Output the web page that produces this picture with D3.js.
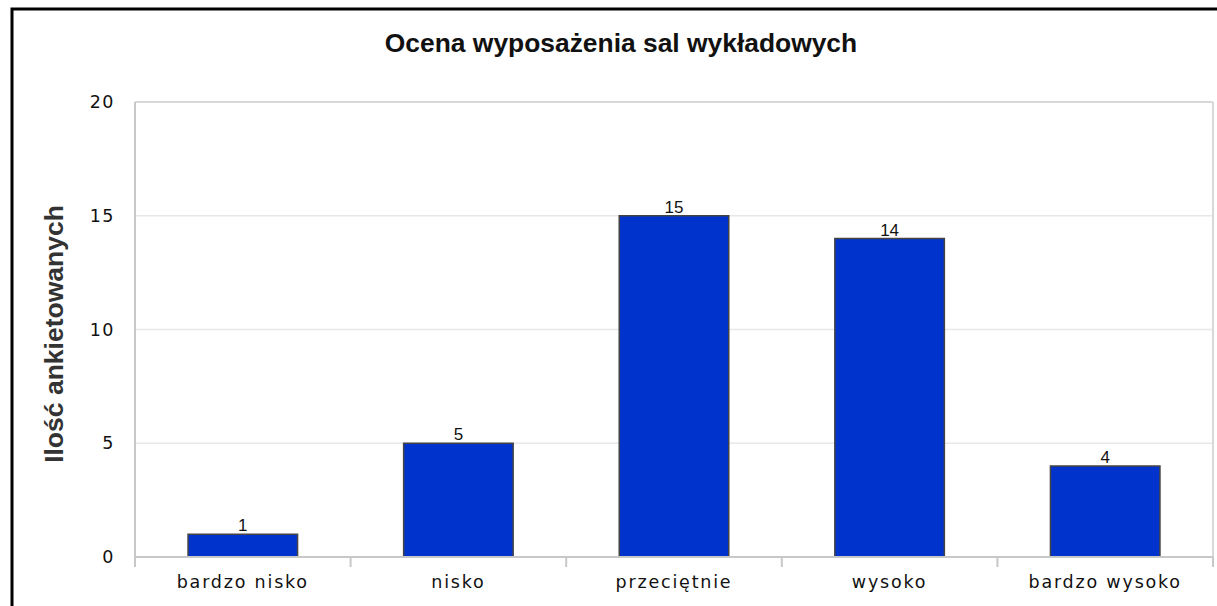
<!DOCTYPE html>
<html>
<head>
<meta charset="utf-8">
<script src="https://cdn.jsdelivr.net/npm/d3@7"></script>
<style>
html,body{margin:0;padding:0;background:#fff;}
svg{display:block;}
</style>
</head>
<body>
<svg id="chart" width="1217" height="606"></svg>
<script>
const title = "Ocena wyposażenia sal wykładowych";
const yTitle = "Ilość ankietowanych";
const categories = ["bardzo nisko", "nisko", "przeciętnie", "wysoko", "bardzo wysoko"];
const values = [1, 5, 15, 14, 4];
const yTicks = [0, 5, 10, 15, 20];

const svg = d3.select("#chart");
const W = 1217, H = 606;
const plot = {left: 135, right: 1213, top: 102, bottom: 557};

// outer frame
svg.append("rect").attr("x", 12).attr("y", 9).attr("width", W + 20).attr("height", H + 20)
  .attr("fill", "#fff").attr("stroke", "#000").attr("stroke-width", 3);

const x = d3.scaleBand().domain(categories).range([plot.left, plot.right]).padding(0);
const y = d3.scaleLinear().domain([0, 20]).range([plot.bottom, plot.top]);

// gridlines
svg.append("g").selectAll("line").data(yTicks.filter(d => d > 0)).join("line")
  .attr("x1", plot.left).attr("x2", plot.right)
  .attr("y1", d => y(d)).attr("y2", d => y(d))
  .attr("stroke", d => d === 20 ? "#d8d8d8" : "#e8e8e8").attr("stroke-width", d => d === 20 ? 2 : 1.5);

// right border of plot
svg.append("line").attr("x1", plot.right).attr("x2", plot.right)
  .attr("y1", plot.top).attr("y2", plot.bottom)
  .attr("stroke", "#d8d8d8").attr("stroke-width", 2);

// bars
const barW = x.bandwidth() * 0.508;
svg.append("g").selectAll("rect").data(values).join("rect")
  .attr("x", (d, i) => x(categories[i]) + (x.bandwidth() - barW) / 2)
  .attr("y", d => y(d))
  .attr("width", barW)
  .attr("height", d => y(0) - y(d))
  .attr("fill", "#0033cc")
  .attr("stroke", "#444").attr("stroke-width", 1.5);

// value labels
svg.append("g").selectAll("text").data(values).join("text")
  .attr("x", (d, i) => x(categories[i]) + x.bandwidth() / 2)
  .attr("y", d => y(d) - 3)
  .attr("text-anchor", "middle")
  .attr("font-family", "Liberation Sans, Arial, sans-serif")
  .attr("font-size", 17)
  .attr("fill", "#111")
  .text(d => d);

// x axis
const xAxis = d3.axisBottom(x).tickSize(0).tickPadding(0);
const gx = svg.append("g").attr("transform", `translate(0,${plot.bottom})`).call(xAxis);
gx.select(".domain").remove();
gx.selectAll(".tick text").remove();
svg.append("line").attr("x1", plot.left).attr("x2", plot.right)
  .attr("y1", plot.bottom).attr("y2", plot.bottom)
  .attr("stroke", "#c8c8c8").attr("stroke-width", 2);
// boundary ticks
const bounds = categories.map(c => x(c)).concat([plot.right]);
svg.append("g").selectAll("line").data(bounds).join("line")
  .attr("x1", d => d).attr("x2", d => d)
  .attr("y1", plot.bottom).attr("y2", plot.bottom + 10)
  .attr("stroke", "#c8c8c8").attr("stroke-width", 2);
svg.append("g").selectAll("text").data(categories).join("text")
  .attr("x", d => x(d) + x.bandwidth() / 2)
  .attr("y", 588)
  .attr("text-anchor", "middle")
  .attr("font-family", "DejaVu Sans, sans-serif")
  .attr("font-size", 17.5)
  .attr("letter-spacing", 1.8)
  .attr("fill", "#111")
  .text(d => d);

// y axis
svg.append("line").attr("x1", plot.left).attr("x2", plot.left)
  .attr("y1", plot.top).attr("y2", plot.bottom + 10)
  .attr("stroke", "#c8c8c8").attr("stroke-width", 2);
const yAxis = d3.axisLeft(y).tickValues(yTicks).tickSize(0).tickPadding(20);
const gy = svg.append("g").attr("transform", `translate(${plot.left},0)`).call(yAxis);
gy.select(".domain").remove();
gy.selectAll(".tick text")
  .attr("font-family", "DejaVu Sans, sans-serif")
  .attr("font-size", 17.5)
  .attr("letter-spacing", 1.5)
  .attr("fill", "#111");

// y title
svg.append("text")
  .attr("transform", "translate(63,334) rotate(-90)")
  .attr("text-anchor", "middle")
  .attr("font-family", "Liberation Sans, Arial, sans-serif")
  .attr("font-weight", "bold")
  .attr("font-size", 26.5)
  .attr("fill", "#333")
  .text(yTitle);

// title
svg.append("text")
  .attr("x", 621).attr("y", 52)
  .attr("text-anchor", "middle")
  .attr("font-family", "Liberation Sans, Arial, sans-serif")
  .attr("font-weight", "bold")
  .attr("font-size", 26.4)
  .attr("fill", "#111")
  .text(title);
</script>
</body>
</html>
